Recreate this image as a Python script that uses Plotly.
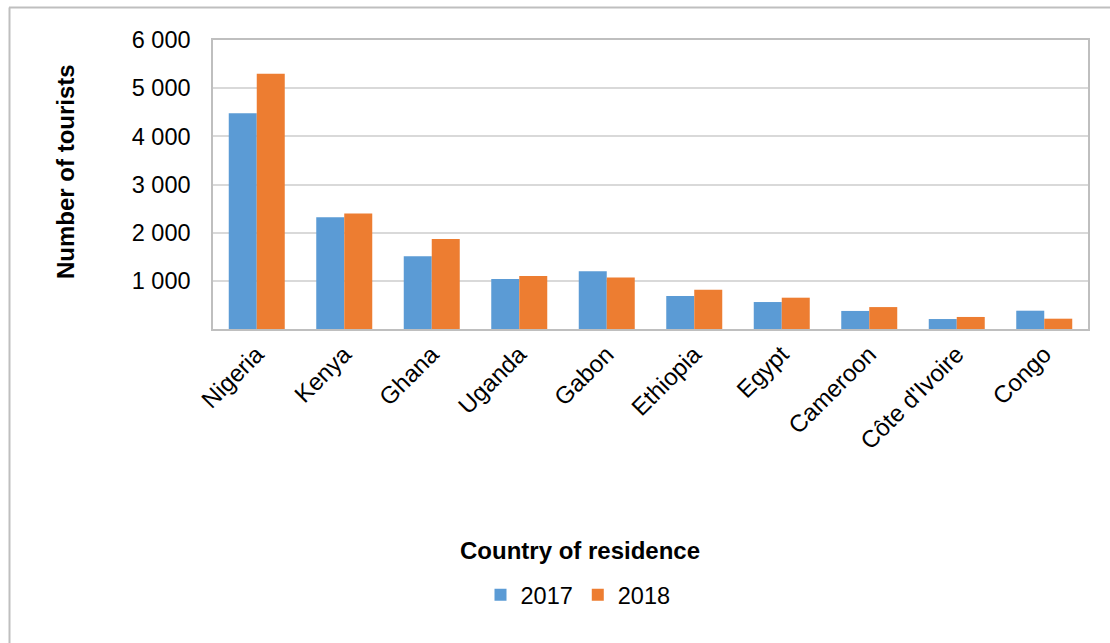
import plotly.graph_objects as go

countries = ["Nigeria", "Kenya", "Ghana", "Uganda", "Gabon", "Ethiopia",
             "Egypt", "Cameroon", "Côte d'Ivoire", "Congo"]
tourists_2017 = [4480, 2320, 1510, 1040, 1200, 685, 560, 375, 207, 380]
tourists_2018 = [5300, 2400, 1870, 1100, 1070, 815, 650, 455, 250, 214]
y_tick_values = [1000, 2000, 3000, 4000, 5000, 6000]
y_tick_labels = ["1 000", "2 000", "3 000", "4 000", "5 000", "6 000"]

W, H = 1110, 643
L, R, T, B = 213, 22, 40, 314
PW, PH = W - L - R, H - T - B

def px(x):
    return (x - L) / PW

def py(y):
    return (H - B - y) / PH

FONT = "Liberation Sans, Arial, sans-serif"

fig = go.Figure()
fig.add_trace(go.Bar(name="2017", x=countries, y=tourists_2017,
                     marker=dict(color="#5B9BD5", line=dict(width=0))))
fig.add_trace(go.Bar(name="2018", x=countries, y=tourists_2018,
                     marker=dict(color="#ED7D31", line=dict(width=0))))

fig.update_layout(
    width=W, height=H,
    margin=dict(l=L, r=R, t=T, b=B, pad=0),
    paper_bgcolor="white", plot_bgcolor="white",
    barmode="group", bargap=0.36, bargroupgap=0,
    font=dict(family=FONT, size=23, color="#000000"),
    showlegend=True,
    legend=dict(orientation="h", x=px(578), xanchor="center",
                y=py(595), yanchor="middle",
                font=dict(size=23.5), bgcolor="rgba(0,0,0,0)"),
    xaxis=dict(tickangle=-45, showline=True, mirror=True,
               linecolor="#BFBFBF", linewidth=1.5, showgrid=False,
               ticks="", tickfont=dict(size=24)),
    yaxis=dict(range=[0, 6000], tickvals=y_tick_values, ticktext=y_tick_labels,
               showgrid=True, gridcolor="#D9D9D9", gridwidth=1.5,
               showline=True, mirror=True, linecolor="#BFBFBF", linewidth=1.5,
               zeroline=False, ticks="", ticklabelstandoff=16,
               tickfont=dict(size=23.5)),
    annotations=[
        dict(text="<b>Country of residence</b>", x=px(580), y=py(550),
             xref="paper", yref="paper", showarrow=False,
             xanchor="center", yanchor="middle", font=dict(size=24)),
        dict(text="<b>Number of tourists</b>", x=px(65), y=py(172),
             xref="paper", yref="paper", showarrow=False, textangle=-90,
             xanchor="center", yanchor="middle", font=dict(size=24)),
    ],
    shapes=[
        dict(type="line", xref="paper", yref="paper",
             x0=px(9), x1=px(1115), y0=py(7.5), y1=py(7.5),
             line=dict(color="#BFBFBF", width=2)),
        dict(type="line", xref="paper", yref="paper",
             x0=px(9.5), x1=px(9.5), y0=py(7.5), y1=py(650),
             line=dict(color="#BFBFBF", width=2)),
    ],
)

fig.write_html("out.html")
